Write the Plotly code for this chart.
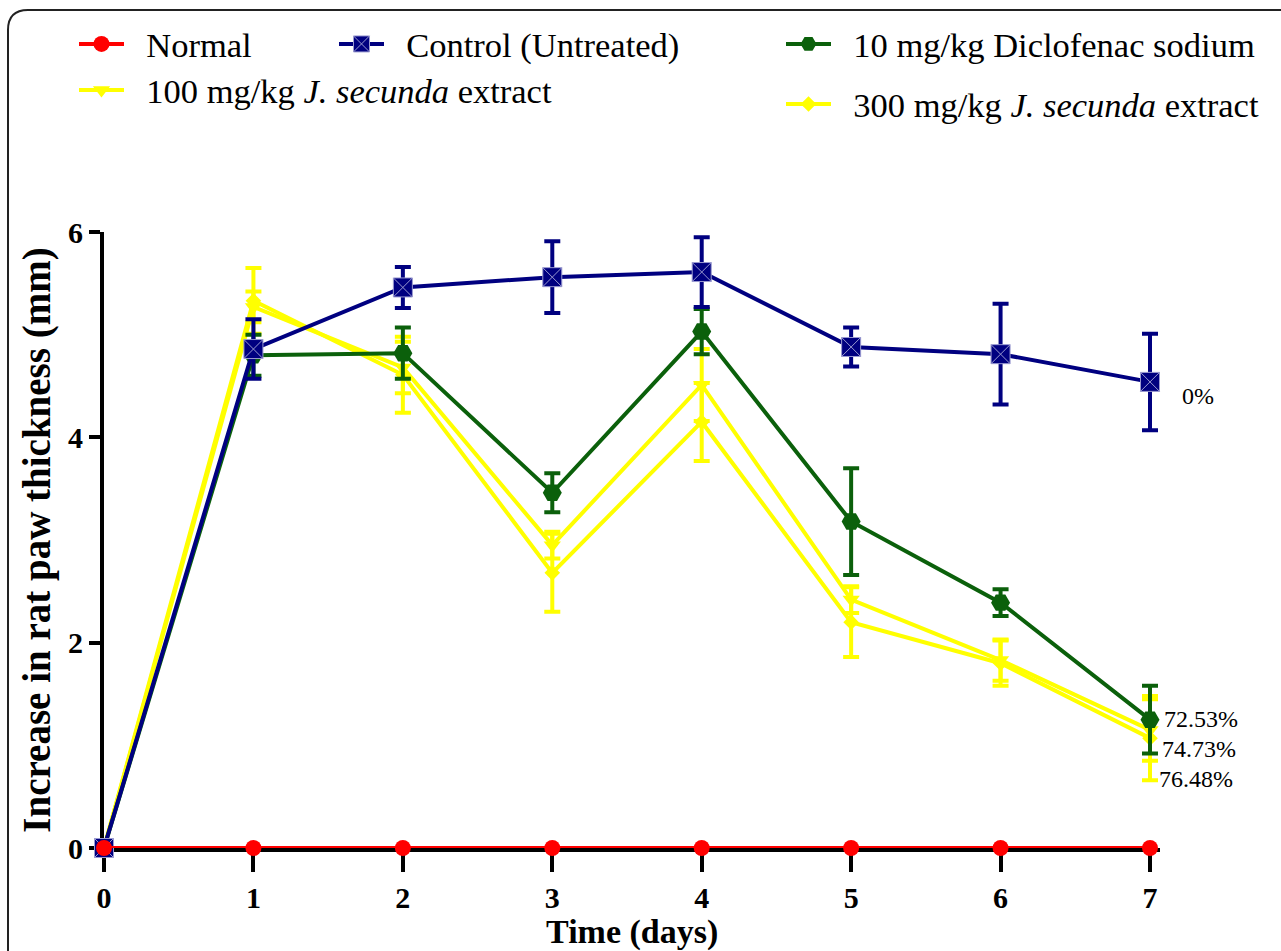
import plotly.graph_objects as go

# ---------------- data ----------------
days = [0, 1, 2, 3, 4, 5, 6, 7]
tick_days = [0, 1, 2, 3, 4, 5, 6, 7]
tick_y = [0, 2, 4, 6]

normal = [0, 0, 0, 0, 0, 0, 0, 0]
control = [0, 4.86, 5.46, 5.56, 5.61, 4.88, 4.81, 4.54]
control_err = [None, 0.29, 0.20, 0.35, 0.34, 0.19, 0.49, 0.47]
diclo = [0, 4.80, 4.82, 3.46, 5.03, 3.18, 2.39, 1.25]
diclo_err = [None, 0.20, 0.25, 0.19, 0.22, 0.52, 0.13, 0.33]
js100 = [0, 5.27, 4.68, 2.95, 4.51, 2.42, 1.83, 1.15]
js100_err = [None, 0.15, 0.25, 0.13, 0.35, 0.13, 0.20, 0.30]
js300 = [0, 5.33, 4.61, 2.68, 4.15, 2.20, 1.80, 1.07]
js300_err = [None, 0.32, 0.37, 0.38, 0.38, 0.34, 0.22, 0.41]

pct_labels = ["0%", "72.53%", "74.73%", "76.48%"]
pct_y = [4.40, 1.26, 0.96, 0.67]
pct_shift = [30, 12, 10, 7]

SP = "\u00a0\u00a0"
names = {
    "normal": SP + "Normal",
    "control": SP + "Control (Untreated)",
    "diclo": SP + "10 mg/kg Diclofenac sodium",
    "js100": SP + "100 mg/kg <i>J. secunda</i> extract",
    "js300": SP + "300 mg/kg <i>J. secunda</i> extract",
}

NAVY = "#000080"
GREEN = "#0b600b"
YELLOW = "#ffff00"
RED = "#ff0000"
SERIF = "Liberation Serif, Times New Roman, serif"

W, H = 1281, 951
X0PX, X7PX = 104, 1150          # pixel of day 0 and day 7
Y0PX, Y6PX = 848, 232           # pixel of y=0 and y=6
XMAX = 7.07                      # small room so day-7 error caps are not clipped
px_per_day = (X7PX - X0PX) / 7
xright = X0PX + XMAX * px_per_day

fig = go.Figure()


def err(arr, color):
    return dict(type="data", array=arr, visible=True, color=color,
                thickness=4, width=8)


fig.add_trace(go.Scatter(
    x=days, y=js300, name=names["js300"], legend="legend5",
    mode="lines+markers", cliponaxis=False,
    line=dict(color=YELLOW, width=4),
    marker=dict(symbol="diamond", size=12, color=YELLOW),
    error_y=err(js300_err, YELLOW)))
fig.add_trace(go.Scatter(
    x=days, y=js100, name=names["js100"], legend="legend4",
    mode="lines+markers", cliponaxis=False,
    line=dict(color=YELLOW, width=4),
    marker=dict(symbol="triangle-down", size=15, color=YELLOW),
    error_y=err(js100_err, YELLOW)))
fig.add_trace(go.Scatter(
    x=days, y=diclo, name=names["diclo"], legend="legend3",
    mode="lines+markers", cliponaxis=False,
    line=dict(color=GREEN, width=4),
    marker=dict(symbol="hexagon2", size=19, color=GREEN),
    error_y=err(diclo_err, GREEN)))
fig.add_trace(go.Scatter(
    x=days, y=control, name=names["control"], legend="legend2",
    mode="lines+markers", cliponaxis=False,
    line=dict(color=NAVY, width=4),
    marker=dict(symbol="square-x", size=19, color=NAVY,
                line=dict(color="#9a9ad0", width=1)),
    error_y=err(control_err, NAVY)))
fig.add_trace(go.Scatter(
    x=days, y=normal, name=names["normal"], legend="legend",
    mode="lines+markers", cliponaxis=False,
    line=dict(color=RED, width=4),
    marker=dict(symbol="circle", size=16, color=RED)))

for lab, yy, sh in zip(pct_labels, pct_y, pct_shift):
    fig.add_annotation(x=7, y=yy, text=lab, showarrow=False, xanchor="left",
                       yanchor="middle", xshift=sh,
                       font=dict(family=SERIF, size=24, color="black"))

leg_common = dict(xanchor="left", yanchor="middle", bgcolor="rgba(0,0,0,0)",
                  borderwidth=0, itemwidth=45,
                  font=dict(family=SERIF, size=34.5, color="black"))


def lx(px):
    return px / W


def ly(py):
    return 1 - py / H


sym_off = 4
fig.update_layout(
    legend=dict(x=lx(78 - sym_off), y=ly(44), **leg_common),
    legend2=dict(x=lx(338 - sym_off), y=ly(44), **leg_common),
    legend3=dict(x=lx(785 - sym_off), y=ly(44), **leg_common),
    legend4=dict(x=lx(78 - sym_off), y=ly(90), **leg_common),
    legend5=dict(x=lx(785 - sym_off), y=ly(104), **leg_common),
)

x0, ytop = 8 / W, 1 - 10 / H
rx, ry = 20 / W, 20 / H
fig.add_shape(type="path", xref="paper", yref="paper",
              path=f"M {x0},-0.05 L {x0},{ytop - ry} Q {x0},{ytop} {x0 + rx},{ytop} L 1.05,{ytop}",
              line=dict(color="#222222", width=2))

fig.update_layout(
    width=W, height=H, margin=dict(l=0, r=0, t=0, b=0, autoexpand=False),
    paper_bgcolor="white", plot_bgcolor="white", showlegend=True,
    xaxis=dict(domain=[X0PX / W, xright / W], range=[0, XMAX], tickvals=tick_days,
               showgrid=False, zeroline=False, showline=True, linecolor="black",
               linewidth=4, ticks="outside", ticklen=20, tickwidth=4,
               tickcolor="black", layer="below traces",
               tickfont=dict(family=SERIF, size=30, color="black", weight="bold"),
               title=dict(text="Time (days)", standoff=8,
                          font=dict(family=SERIF, size=34, color="black", weight="bold"))),
    yaxis=dict(domain=[1 - Y0PX / H, 1 - Y6PX / H], range=[0, 6], tickvals=tick_y,
               showgrid=False, zeroline=False, showline=True, linecolor="black",
               linewidth=4, ticks="outside", ticklen=11, tickwidth=4,
               tickcolor="black", layer="below traces",
               tickfont=dict(family=SERIF, size=30, color="black", weight="bold"),
               title=dict(text="Increase in rat paw thickness (mm)", standoff=6,
                          font=dict(family=SERIF, size=39, color="black", weight="bold"))),
)

fig.write_html("out.html")
